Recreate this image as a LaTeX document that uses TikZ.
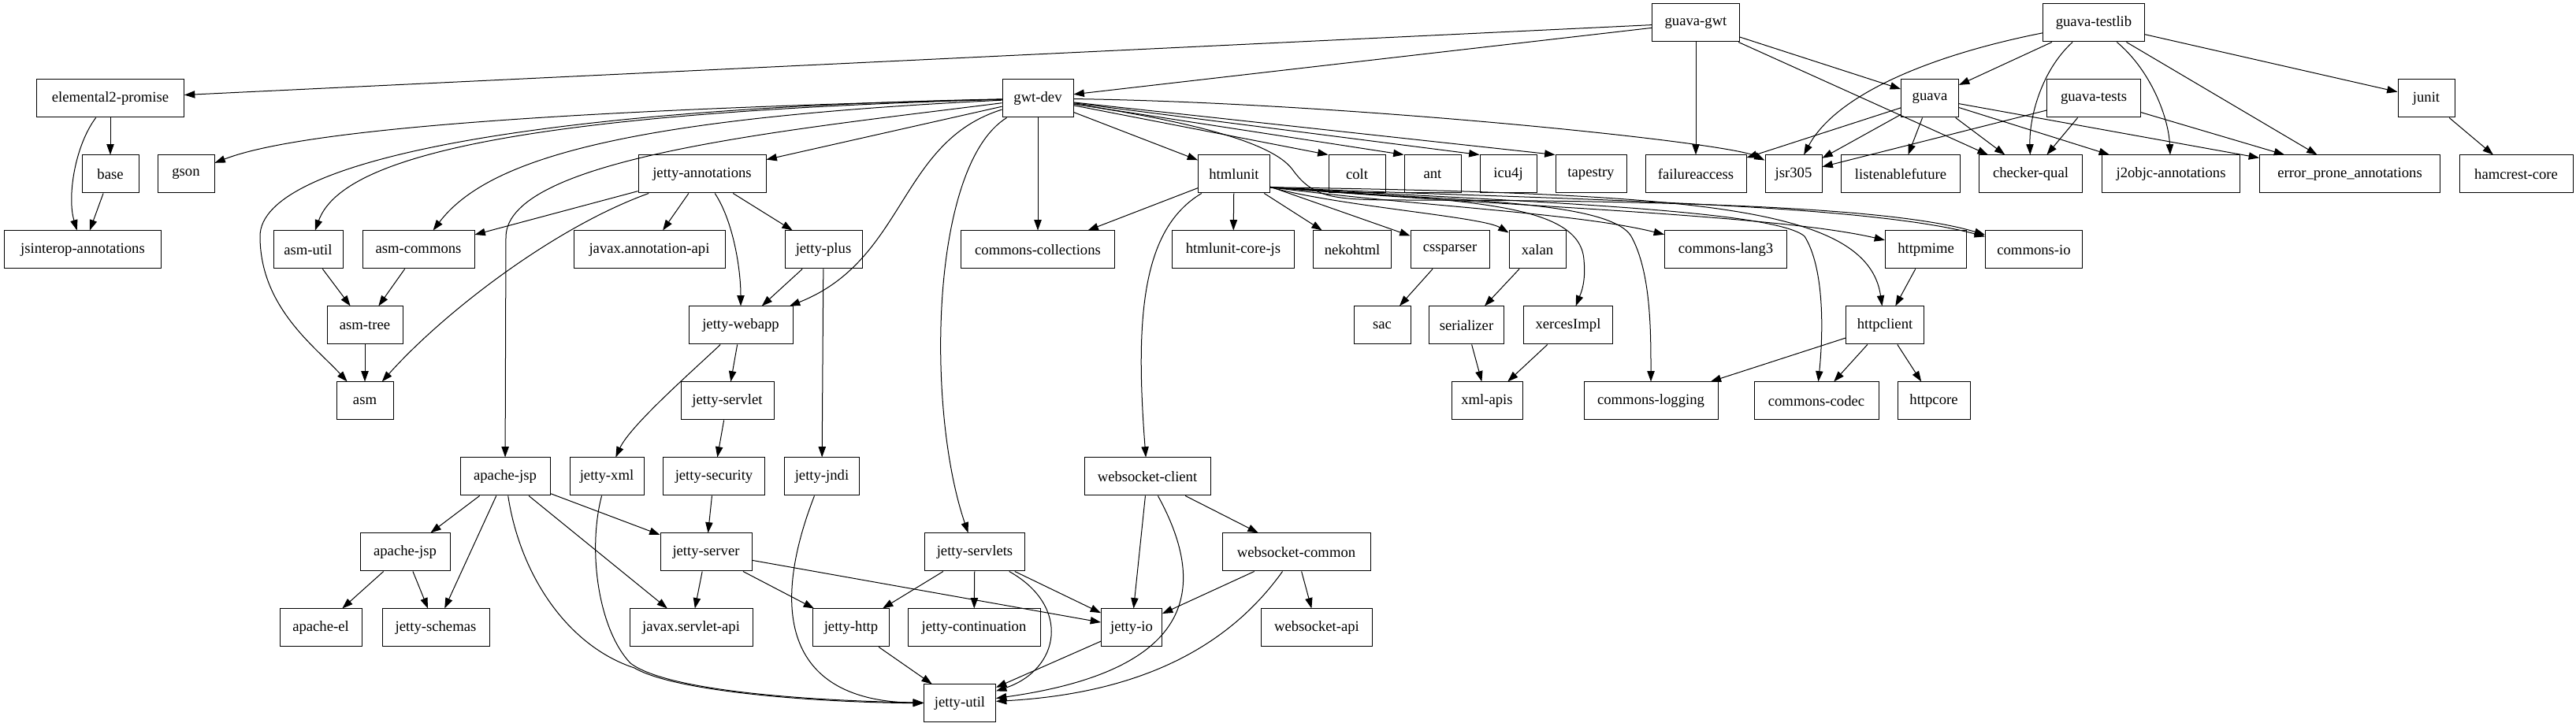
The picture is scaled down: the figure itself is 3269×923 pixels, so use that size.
\documentclass[tikz,border=0pt]{standalone}
\usepackage{fontspec}
\setmainfont{Liberation Serif}
\usetikzlibrary{arrows.meta}
\tikzset{
  depbox/.style={rectangle, draw, line width=0.75pt, minimum height=36pt,
                 inner sep=2pt, font=\fontsize{14}{16}\selectfont},
  deplink/.style={draw, line width=0.75pt, -{Triangle[length=10pt, width=7pt]}}
}
\begin{document}
\begin{tikzpicture}[x=0.75pt, y=0.75pt]
  \path[use as bounding box, fill=white] (0,0) rectangle (3269,923);
  \foreach \name/\pos/\w/\txt in {guavagwt/2152/111/guava-gwt,
      guavatestlib/2657/129/guava-testlib} {
    \node[depbox, minimum width=\w*0.75pt] (\name) at (\pos, 894) {\txt};
  }
  \foreach \name/\pos/\w/\txt in {elemental/140/187/elemental2-promise,
      gwtdev/1317/90/gwt-dev, guava/2449/73/guava, guavatests/2657/119/guava-tests,
      junit/3079/72/junit} {
    \node[depbox, minimum width=\w*0.75pt] (\name) at (\pos, 798) {\txt};
  }
  \foreach \name/\pos/\w/\txt in {base/140/72/base, gson/236/72/gson,
      jettyann/891/162/jetty-annotations, htmlunit/1566/91/htmlunit,
      colt/1722/72/colt, ant/1818/72/ant, icu4j/1914/72/icu4j,
      tapestry/2019/90/tapestry, failureaccess/2152/128/failureaccess,
      jsr305/2276/72/jsr305, listenablefuture/2412/151/listenablefuture,
      checkerqual/2577/131/checker-qual, j2objc/2755/175/j2objc-annotations,
      errorprone/2982/229/error\_prone\_annotations,
      hamcrest/3193/144/hamcrest-core} {
    \node[depbox, minimum width=\w*0.75pt] (\name) at (\pos, 702) {\txt};
  }
  \foreach \name/\pos/\w/\txt in {jsinterop/105/199/jsinterop-annotations,
      asmutil/391/88/asm-util, asmcommons/531/142/asm-commons,
      javaxann/824/192/javax.annotation-api, jettyplus/1045/98/jetty-plus,
      commonscoll/1317/195/commons-collections,
      htmlunitcorejs/1565/155/htmlunit-core-js, nekohtml/1716/99/nekohtml,
      cssparser/1840/100/cssparser, xalan/1951/72/xalan,
      commonslang3/2190/155/commons-lang3, httpmime/2444/103/httpmime,
      commonsio/2581/123/commons-io} {
    \node[depbox, minimum width=\w*0.75pt] (\name) at (\pos, 606) {\txt};
  }
  \foreach \name/\pos/\w/\txt in {asmtree/463/96/asm-tree,
      jettywebapp/940/132/jetty-webapp, sac/1754/72/sac,
      serializer/1861/95/serializer, xercesimpl/1990/113/xercesImpl,
      httpclient/2392/99/httpclient} {
    \node[depbox, minimum width=\w*0.75pt] (\name) at (\pos, 510) {\txt};
  }
  \foreach \name/\pos/\w/\txt in {asm/463/72/asm,
      jettyservlet/923/118/jetty-servlet, xmlapis/1887/90/xml-apis,
      commonslogging/2095/170/commons-logging,
      commonscodec/2305/158/commons-codec, httpcore/2454/92/httpcore} {
    \node[depbox, minimum width=\w*0.75pt] (\name) at (\pos, 414) {\txt};
  }
  \foreach \name/\pos/\w/\txt in {apachejsp/641/114/apache-jsp,
      jettyxml/770/94/jetty-xml, jettysecurity/906/129/jetty-security,
      jettyjndi/1043/95/jetty-jndi, wsclient/1456/160/websocket-client} {
    \node[depbox, minimum width=\w*0.75pt] (\name) at (\pos, 318) {\txt};
  }
  \foreach \name/\pos/\w/\txt in {apachejspb/514/114/apache-jsp,
      jettyserver/896/116/jetty-server, jettyservlets/1237/127/jetty-servlets,
      wscommon/1645/188/websocket-common} {
    \node[depbox, minimum width=\w*0.75pt] (\name) at (\pos, 222) {\txt};
  }
  \foreach \name/\pos/\w/\txt in {apacheel/407/104/apache-el,
      jettyschemas/553/136/jetty-schemas, javaxservlet/877/156/javax.servlet-api,
      jettyhttp/1080/97/jetty-http, jettycont/1236/168/jetty-continuation,
      jettyio/1436/77/jetty-io, wsapi/1671/141/websocket-api} {
    \node[depbox, minimum width=\w*0.75pt] (\name) at (\pos, 126) {\txt};
  }
  \node[depbox, minimum width=68.25pt] (jettyutil) at (1218, 30) {jetty-util};

  \foreach \parent/\child in {guavagwt/elemental, guavagwt/gwtdev,
      guavagwt/failureaccess, guavagwt/guava, guavagwt/checkerqual,
      guavatestlib/guava, guavatestlib/errorprone, guavatestlib/junit,
      elemental/base, base/jsinterop, gwtdev/jettyann, gwtdev/commonscoll,
      gwtdev/htmlunit, guava/failureaccess, guava/jsr305,
      guava/listenablefuture, guava/checkerqual, guava/j2objc,
      guava/errorprone, guavatests/jsr305, guavatests/checkerqual,
      guavatests/errorprone, junit/hamcrest, jettyann/asmcommons,
      jettyann/javaxann, jettyann/jettyplus, htmlunit/commonscoll,
      htmlunit/htmlunitcorejs, htmlunit/nekohtml, htmlunit/cssparser,
      asmutil/asmtree, asmcommons/asmtree, asmtree/asm,
      jettyplus/jettywebapp, jettyplus/jettyjndi, cssparser/sac,
      xalan/serializer, serializer/xmlapis, xercesimpl/xmlapis,
      httpmime/httpclient, httpclient/commonslogging,
      httpclient/commonscodec, httpclient/httpcore,
      jettywebapp/jettyservlet, jettyservlet/jettysecurity,
      jettysecurity/jettyserver, apachejsp/apachejspb,
      apachejsp/jettyschemas, apachejsp/javaxservlet, apachejsp/jettyserver,
      apachejspb/apacheel, apachejspb/jettyschemas,
      jettyserver/javaxservlet, jettyserver/jettyhttp, jettyserver/jettyio,
      jettyservlets/jettyhttp, jettyservlets/jettycont,
      jettyservlets/jettyio, wsclient/jettyio, wsclient/wscommon,
      wscommon/jettyio, wscommon/wsapi, jettyhttp/jettyutil,
      jettyio/jettyutil} {
    \draw[deplink] (\parent) -- (\child);
  }
  \foreach \child in {colt, ant, icu4j, tapestry} {
    \draw[deplink] (gwtdev) -- (\child.north west);
  }

  % the bent ones, routed round the boxes in the way
  \draw[deplink] (elemental) .. controls (95,738) and (85,673) .. (jsinterop);
  \draw[deplink] (gwtdev) .. controls (700,783) and (380,758) .. (gson);
  \draw[deplink] (gwtdev) .. controls (700,786) and (330,723) .. (330,623)
    .. controls (330,533) and (400,483) .. (asm);
  \draw[deplink] (gwtdev) .. controls (600,778) and (430,713) .. (asmutil);
  \draw[deplink] (gwtdev) .. controls (800,773) and (620,723) .. (asmcommons);
  \draw[deplink] (gwtdev) .. controls (1000,758) and (645,723) .. (642,623)
    -- (apachejsp);
  \draw[deplink] (gwtdev) .. controls (1140,743) and (1150,593) .. (jettywebapp);
  \draw[deplink] (gwtdev) .. controls (1180,713) and (1175,403) .. (jettyservlets);
  \draw[deplink] (gwtdev) .. controls (1700,793) and (2190,743) .. (jsr305);
  \draw[deplink] (gwtdev) .. controls (1480,773) and (1610,748) .. (1640,708)
    .. controls (1665,673) and (1690,670) .. (1760,669)
    .. controls (2100,669) and (2400,661) .. (commonsio);

  \draw[deplink] (htmlunit) .. controls (1450,633) and (1440,523) .. (wsclient);
  \draw[deplink] (htmlunit.-20) .. controls (1700,661) and (1880,648) .. (xalan);
  \draw[deplink] (htmlunit.-20) .. controls (1850,668) and (2005,668) .. (2010,593)
    .. controls (2013,563) and (2005,548) .. (xercesimpl);
  \draw[deplink] (htmlunit.-20) .. controls (1800,661) and (2000,653) .. (commonslang3);
  \draw[deplink] (htmlunit.-20) .. controls (1800,668) and (2040,673) .. (2070,623)
    .. controls (2095,578) and (2095,503) .. (commonslogging);
  \draw[deplink] (htmlunit.-20) .. controls (1900,668) and (2250,658) .. (2290,623)
    .. controls (2315,583) and (2314,503) .. (commonscodec);
  \draw[deplink] (htmlunit.-20) .. controls (2150,677) and (2370,661) .. (httpclient);
  \draw[deplink] (htmlunit.-20) .. controls (1900,661) and (2250,651) .. (httpmime);
  \draw[deplink] (htmlunit.-20) .. controls (1900,671) and (2350,668) .. (commonsio);

  \draw[deplink] (guavatestlib) .. controls (2450,853) and (2330,803) .. (jsr305);
  \draw[deplink] (guavatestlib) .. controls (2590,833) and (2575,773) .. (checkerqual);
  \draw[deplink] (guavatestlib) .. controls (2730,833) and (2752,773) .. (j2objc);

  \draw[deplink] (jettyann) .. controls (700,633) and (560,523) .. (asm);
  \draw[deplink] (jettyann) .. controls (930,643) and (940,583) .. (jettywebapp);
  \draw[deplink] (jettywebapp) .. controls (880,453) and (800,383) .. (jettyxml);

  \draw[deplink] (jettyxml) .. controls (745,223) and (760,123) .. (800,81)
    .. controls (850,43) and (1050,33) .. (jettyutil);
  \draw[deplink] (apachejsp) .. controls (660,193) and (720,103) .. (805,75)
    .. controls (860,43) and (1050,31) .. (jettyutil);
  \draw[deplink] (jettyjndi) .. controls (975,143) and (1000,33) .. (jettyutil);
  \draw[deplink] (jettyservlets) .. controls (1360,153) and (1345,73) .. (jettyutil);
  \draw[deplink] (wsclient) .. controls (1530,183) and (1525,73) .. (jettyutil);
  \draw[deplink] (wscommon) .. controls (1560,103) and (1450,43) .. (jettyutil);
\end{tikzpicture}
\end{document}
